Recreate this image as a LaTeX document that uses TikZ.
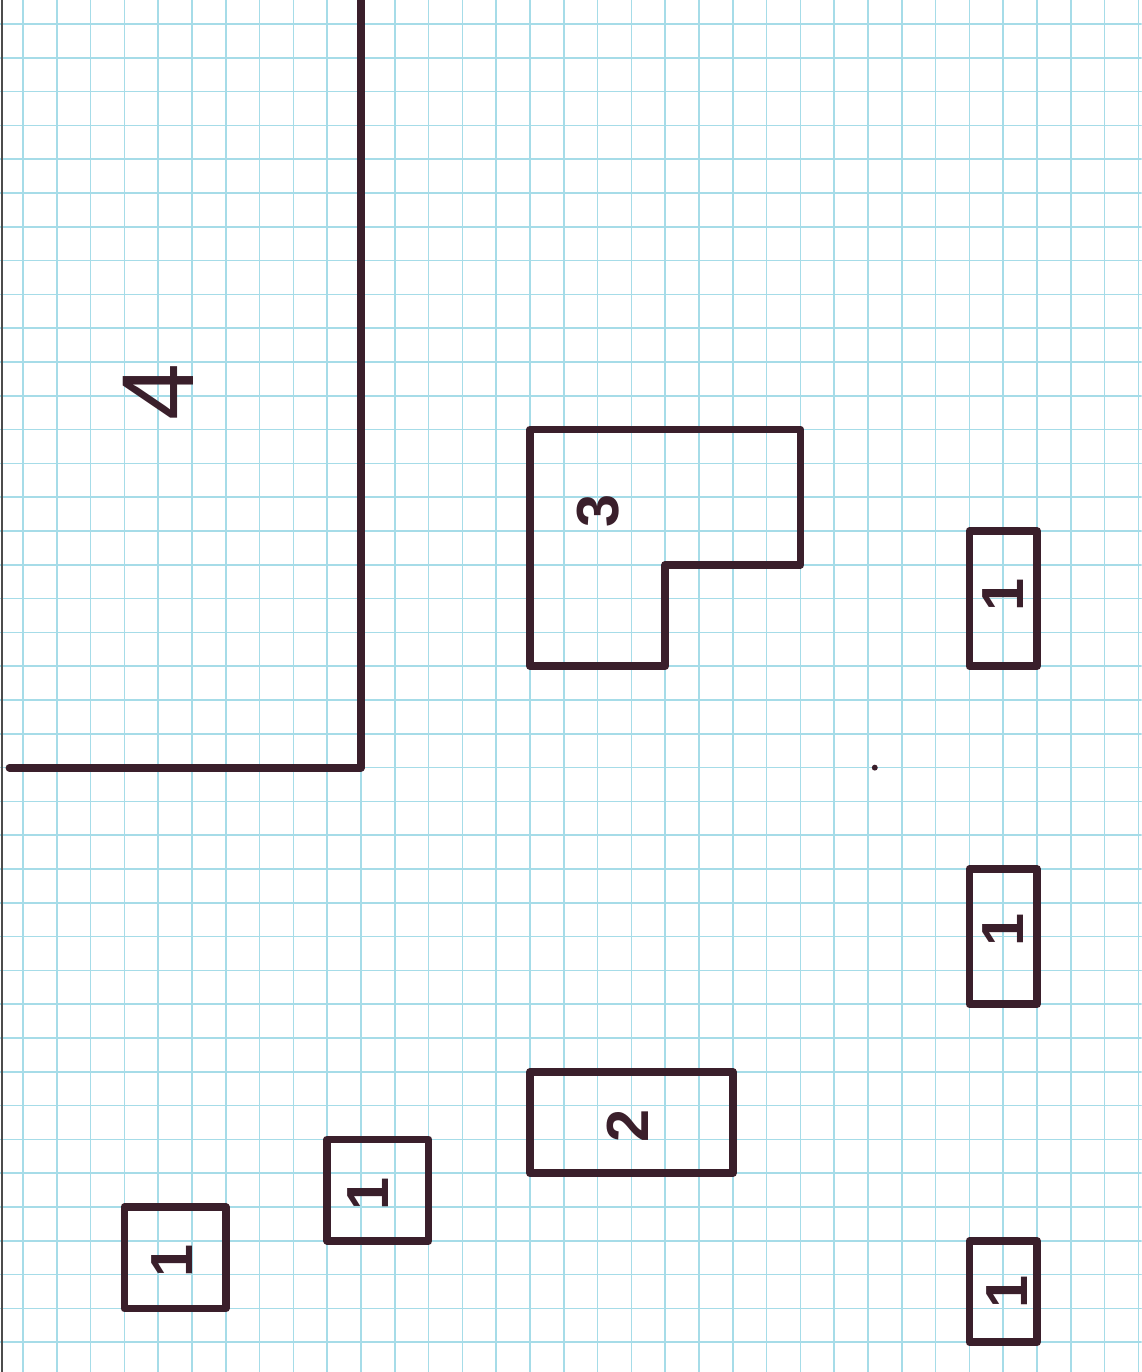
\documentclass[tikz,border=0pt]{standalone}
\usepackage{fontspec}
\setmainfont{Liberation Sans}
\usepackage{tikz}
\definecolor{inkbrown}{HTML}{3A1F2B}
\definecolor{gridcyan}{HTML}{A6DCE8}

\begin{document}
\begin{tikzpicture}[line cap=round,line join=round,
    pen/.style={inkbrown,line width=6.5pt},
    digit/.style={rotate=90,inkbrown,font=\fontsize{50}{50}\selectfont\bfseries}]
  \useasboundingbox (-0.68,0.71) rectangle (33.08,-39.88);
  \fill[white] (-0.68,0.71) rectangle (33.08,-39.88);
  \draw[gridcyan,line width=1.3pt] (-0.68,0.71) grid (33.08,-39.88);
  \draw[gray!60!black,line width=2pt] (-0.63,0.71) -- (-0.63,-39.88);
  % area 4
  \draw[pen] (10,0.8) -- (10,-22) -- (-0.4,-22);
  \node[digit,font=\fontsize{86}{86}\selectfont] (area4) at (4,-10.9) {4};
  % area 3
  \draw[pen] (15,-12) -- (23,-12) -- (23,-16) -- (19,-16) -- (19,-19) -- (15,-19) -- cycle;
  \node[digit] (area3) at (17,-14.4) {3};
  % area 2
  \draw[pen] (15,-31) rectangle (21,-34);
  \node[digit] (area2) at (17.9,-32.6) {2};
  % small ones
  \draw[pen] (3,-35) rectangle (6,-38);
  \node[digit] (one1) at (4.4,-36.6) {1};
  \draw[pen] (9,-33) rectangle (12,-36);
  \node[digit] (one2) at (10.2,-34.6) {1};
  \draw[pen] (28,-15) rectangle (30,-19);
  \node[digit] (one3) at (29,-16.9) {1};
  \draw[pen] (28,-25) rectangle (30,-29);
  \node[digit] (one4) at (29,-26.8) {1};
  \draw[pen] (28,-36) rectangle (30,-39);
  \node[digit] (one5) at (29.1,-37.5) {1};
  \fill[inkbrown] (25.2,-22) circle (2.5pt);
\end{tikzpicture}
\end{document}
